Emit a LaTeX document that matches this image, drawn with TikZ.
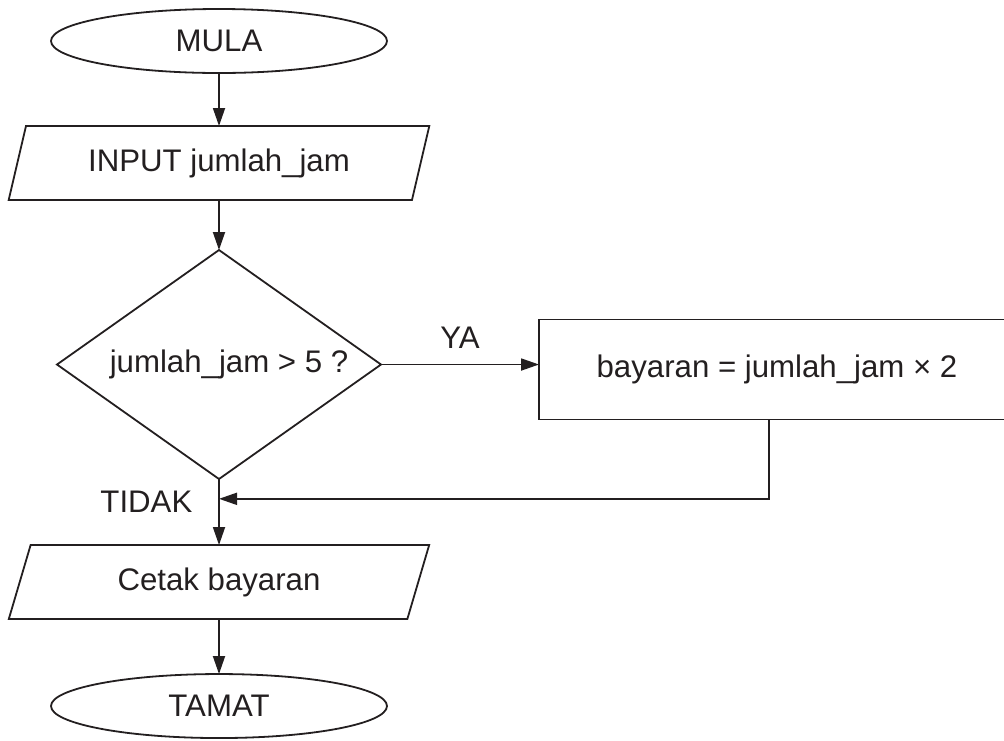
\documentclass[tikz,border=0pt]{standalone}
\usepackage{fontspec}
\setmainfont{Liberation Sans}
\usepackage{xcolor}
\definecolor{ink}{HTML}{231F20}
\usetikzlibrary{arrows.meta,positioning,shapes.geometric,calc}

\begin{document}
\begin{tikzpicture}[
    font=\fontsize{15.6}{18}\selectfont,
    line width=0.9pt,
    draw=ink, text=ink,
    every node/.style={outer sep=0pt},
    terminal/.style={draw, ellipse, minimum width=168pt, minimum height=32pt, inner sep=0pt},
    io/.style={draw, trapezium, trapezium left angle=68, trapezium right angle=112, trapezium stretches=true, minimum width=210.5pt, minimum height=37pt, inner sep=0pt},
    decision/.style={draw, diamond, aspect=1.4, minimum width=162pt, minimum height=114.5pt, inner sep=0pt},
    process/.style={draw, rectangle, minimum width=260pt, minimum height=50pt},
    line/.style={draw=ink, -{Triangle[length=9pt,width=6pt]}}
]
\useasboundingbox (0,0) rectangle (502pt,-370pt);
\node[terminal] (mula) at (109.5pt,-20.5pt) {MULA};
\node[io, below=26.5pt of mula] (input) {INPUT jumlah\_jam};
\node[decision, below=25pt of input] (semak) {\hspace*{10pt}jumlah\_jam > 5 ?};
\node[process, right=79pt of semak, yshift=-2.5pt] (bayar) {bayaran = jumlah\_jam × 2\hspace*{22pt}};
\node[io, below=33pt of semak] (cetak) {Cetak bayaran};
\node[terminal, below=27.5pt of cetak] (tamat) {TAMAT};

\coordinate (join) at ($(semak.south)!0.3!(cetak.north)$);

\draw[line] (mula) -- (input);
\draw[line] (input) -- (semak);
\draw[line] (semak.east) -- node[above=4.5pt] (ya) {YA} (semak.east -| bayar.west);
\draw[line] (semak) -- (cetak);
\draw[line] ([xshift=-15pt]bayar.south) |- (join);
\draw[line] (cetak) -- (tamat);
\node[anchor=east] (tidak) at ([xshift=-10pt,yshift=-1.5pt]join) {TIDAK};
\end{tikzpicture}
\end{document}
